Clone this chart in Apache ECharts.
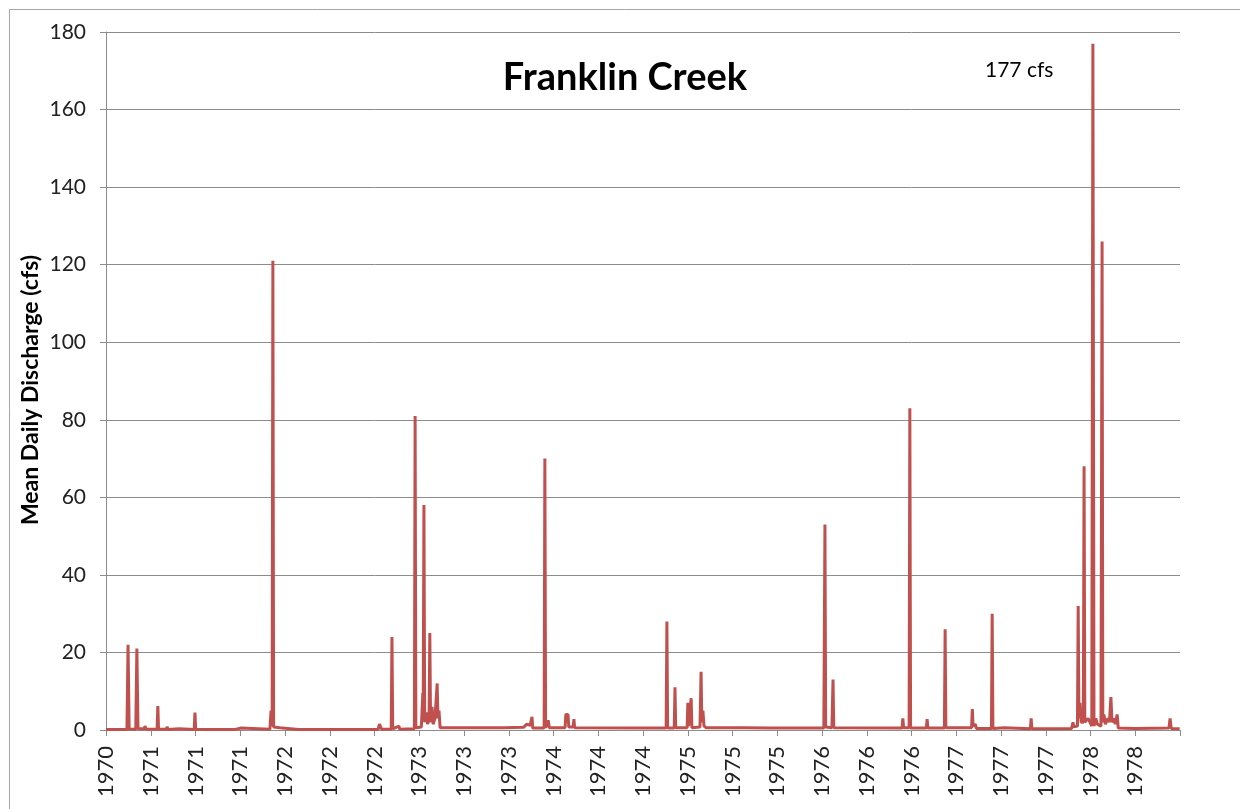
<!DOCTYPE html>
<html>
<head>
<meta charset="utf-8">
<script src="https://cdn.jsdelivr.net/npm/echarts@6/dist/echarts.min.js"></script>
<style>html,body{margin:0;padding:0;background:#fff}#chart{width:1240px;height:809px}</style>
</head>
<body>
<div id="chart"></div>
<script>
// Mean daily discharge (cfs), [date, value] points, grouped by water year
const wy1971 = [['1970-10-01',0.1],['1970-11-27',0.1],['1970-11-30',22],['1970-12-03',0.2],['1970-12-21',0.2],['1970-12-24',21],['1970-12-27',0.3],['1971-01-13',0.3],['1971-01-15',1.0],['1971-01-18',0.2],['1971-02-17',0.2],['1971-02-19',6.2],['1971-02-21',0.2],['1971-03-14',0.2],['1971-03-16',0.8],['1971-03-19',0.1],['1971-04-18',0.3],['1971-04-20',0.1],['1971-05-29',0.1],['1971-05-31',4.5],['1971-06-02',0.1],['1971-09-15',0.1],['1971-09-17',0.5]];
const wy1972 = [['1971-10-04',0.5],['1971-10-06',0.1],['1971-12-21',0.2],['1971-12-24',5],['1971-12-27',1],['1971-12-29',121],['1971-12-31',0.8],['1972-01-17',0.6],['1972-01-20',0.1],['1972-03-08',0.1],['1972-03-09',0.3],['1972-03-10',0.1],['1972-09-30',0.1]];
const wy1973 = [['1972-10-10',0.1],['1972-10-14',1.5],['1972-10-17',0.8],['1972-10-20',0.2],['1972-11-15',0.2],['1972-11-17',24],['1972-11-19',0.3],['1972-12-06',1],['1972-12-08',0.2],['1973-01-17',0.3],['1973-01-19',81],['1973-01-21',0.6],['1973-02-05',0.8],['1973-02-09',9.5],['1973-02-10',4],['1973-02-12',58],['1973-02-14',2],['1973-02-18',4.5],['1973-02-22',1.5],['1973-02-26',3],['1973-02-28',25],['1973-03-02',2],['1973-03-06',6],['1973-03-09',1.5],['1973-03-14',3],['1973-03-20',12],['1973-03-22',3],['1973-03-25',5],['1973-03-28',0.6],['1973-07-13',0.6],['1973-07-15',0.9],['1973-07-17',0.6],['1973-09-19',0.6],['1973-09-21',0.8],['1973-09-23',0.6]];
const wy1974 = [['1973-11-10',0.7],['1973-11-19',1.5],['1973-11-28',1.2],['1973-12-03',3.4],['1973-12-05',0.5],['1974-01-05',0.5],['1974-01-07',70],['1974-01-09',0.6],['1974-01-13',0.8],['1974-01-16',2.5],['1974-01-19',0.6],['1974-03-03',0.6],['1974-03-05',4],['1974-03-11',4],['1974-03-13',0.8],['1974-03-25',0.8],['1974-03-27',2.8],['1974-03-29',0.6],['1974-09-30',0.5]];
const wy1975 = [['1974-10-24',0.5],['1974-10-26',0.8],['1974-10-28',0.5],['1974-12-03',0.5],['1974-12-05',28],['1974-12-07',0.5],['1974-12-25',0.5],['1974-12-27',11],['1974-12-29',0.6],['1975-01-29',0.6],['1975-01-31',7],['1975-02-02',1],['1975-02-07',1],['1975-02-09',8.2],['1975-02-11',0.6],['1975-03-05',0.8],['1975-03-08',15],['1975-03-10',2],['1975-03-13',5],['1975-03-16',1],['1975-03-22',0.6],['1975-07-04',0.6],['1975-07-06',0.8],['1975-07-08',0.5],['1975-09-10',0.5],['1975-09-12',0.7],['1975-09-14',0.5]];
const wy1976 = [['1976-02-05',0.5],['1976-02-08',53],['1976-02-10',0.8],['1976-02-27',0.6],['1976-03-01',13],['1976-03-03',0.6],['1976-09-05',0.5],['1976-09-07',3],['1976-09-09',0.6],['1976-09-24',0.6],['1976-09-26',83],['1976-09-28',0.5]];
const wy1977 = [['1976-11-10',0.5],['1976-11-12',2.8],['1976-11-14',0.5],['1976-12-29',0.5],['1976-12-31',26],['1977-01-02',0.6],['1977-03-13',0.6],['1977-03-15',5.4],['1977-03-17',1],['1977-03-23',1.5],['1977-03-26',0.4],['1977-05-06',0.4],['1977-05-08',30],['1977-05-10',0.4],['1977-06-09',0.6],['1977-06-12',0.3],['1977-08-20',0.3],['1977-08-22',3],['1977-08-24',0.3]];
const wy1978 = [['1977-12-10',0.4],['1977-12-14',2],['1977-12-16',0.8],['1977-12-26',1],['1977-12-28',32],['1977-12-30',3],['1978-01-02',7],['1978-01-05',2],['1978-01-11',2],['1978-01-13',68],['1978-01-15',2],['1978-01-24',3],['1978-02-03',1],['1978-02-06',177],['1978-02-09',1],['1978-02-14',3],['1978-02-18',1.5],['1978-02-28',1],['1978-03-03',126],['1978-03-05',2],['1978-03-08',4],['1978-03-12',1.5],['1978-03-19',3],['1978-03-23',2],['1978-03-27',8.5],['1978-03-30',2],['1978-04-04',3],['1978-04-08',1.5],['1978-04-13',4],['1978-04-16',0.5],['1978-06-01',0.4],['1978-09-01',0.5],['1978-09-04',3],['1978-09-07',0.4],['1978-09-30',0.3]];

// x-axis tick labels (one every ~4 months starting 1 Oct 1970)
const tickLabels = ['1970','1971','1971','1971','1972','1972','1972','1973','1973','1973','1974','1974','1974','1975','1975','1975','1976','1976','1976','1977','1977','1977','1978','1978'];
const startDate = '1970-10-01';
const endDate = '1978-10-01';
const yTicks = {min: 0, max: 180, step: 20};
const titleText = 'Franklin Creek';
const peakNote = '177 cfs';
const yName = 'Mean Daily Discharge (cfs)';

const DAY = 86400000;
const t0 = Date.parse(startDate + 'T00:00:00Z');
const toDay = s => (Date.parse(s + 'T00:00:00Z') - t0) / DAY;
const totalDays = toDay(endDate);
const tickStep = totalDays / tickLabels.length;
const all = [].concat(wy1971, wy1972, wy1973, wy1974, wy1975, wy1976, wy1977, wy1978);
const seriesData = all.map(p => [toDay(p[0]), p[1]]);

const FONT = 'Lato, "Open Sans", sans-serif';
const chart = echarts.init(document.getElementById('chart'), null, {renderer: 'canvas'});
chart.setOption({
  animation: false,
  backgroundColor: '#fff',
  grid: {left: 106, right: 60, top: 32, bottom: 79, containLabel: false},
  graphic: [
    {type: 'rect', left: 7, top: 7, shape: {width: 1260, height: 840}, style: {fill: 'none', stroke: '#a6a6a6', lineWidth: 1}, silent: true},
    {type: 'text', x: 625, y: 78, style: {text: titleText, font: 'bold 38px ' + FONT, fill: '#000', textAlign: 'center', textVerticalAlign: 'middle'}},
    {type: 'text', x: 985, y: 70, style: {text: peakNote, font: '21px ' + FONT, fill: '#000', textAlign: 'left', textVerticalAlign: 'middle'}},
    {type: 'text', x: 31, y: 390, rotation: Math.PI / 2, style: {text: yName, font: 'bold 23px ' + FONT, fill: '#000', textAlign: 'center', textVerticalAlign: 'middle'}}
  ],
  xAxis: {
    type: 'value', min: 0, max: totalDays, interval: tickStep,
    axisLine: {show: true, lineStyle: {color: '#8c8c8c', width: 1}},
    axisTick: {show: true, length: 6, lineStyle: {color: '#8c8c8c'}},
    splitLine: {show: false},
    axisLabel: {
      rotate: 90, margin: 16, fontSize: 22, fontFamily: FONT, color: '#222',
      formatter: v => { const i = Math.round(v / tickStep); return tickLabels[i] || ''; }
    }
  },
  yAxis: {
    type: 'value', min: yTicks.min, max: yTicks.max, interval: yTicks.step,
    axisLine: {show: true, lineStyle: {color: '#8c8c8c', width: 1}},
    axisTick: {show: true, length: 6, lineStyle: {color: '#8c8c8c'}},
    splitLine: {show: true, lineStyle: {color: '#8c8c8c', width: 1}},
    axisLabel: {fontSize: 21, fontFamily: FONT, color: '#222', margin: 20}
  },
  series: [{
    type: 'line', data: seriesData, showSymbol: false, symbol: 'none',
    lineStyle: {color: '#C0504D', width: 3}, itemStyle: {color: '#C0504D'}
  }]
});
</script>
</body>
</html>
